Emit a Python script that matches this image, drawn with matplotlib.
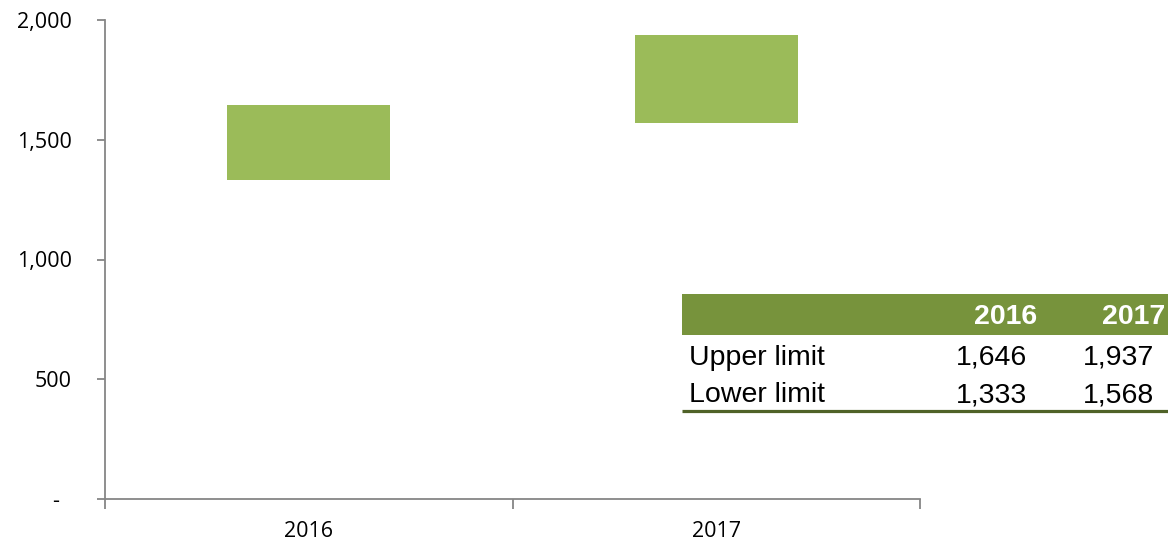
import matplotlib
matplotlib.use("Agg")
import matplotlib.pyplot as plt
from matplotlib.patches import Rectangle

# data
years = ["2016", "2017"]
upper = [1646, 1937]
lower = [1333, 1568]
row_labels = ["Upper limit", "Lower limit"]
y_ticks = [0, 500, 1000, 1500, 2000]
y_tick_labels = ["-  ", "500", "1,000", "1,500", "2,000"]

bar_color = "#9BBB59"
head_color = "#77933C"
line_color = "#4F6228"
axis_color = "#868686"

W, H = 1168, 547
fig = plt.figure(figsize=(W / 100, H / 100), dpi=100)

# main chart
ax = fig.add_axes([105 / W, 1 - 499 / H, (920 - 105) / W, (499 - 20) / H])
pos = [i + 0.5 for i in range(len(years))]
heights = [u - l for u, l in zip(upper, lower)]
ax.bar(pos, heights, bottom=lower, width=0.4, color=bar_color)
ax.set_xlim(0, len(years))
ax.set_ylim(0, 2000)
ax.set_yticks(y_ticks)
ax.set_yticklabels(y_tick_labels, fontfamily="Open Sans", fontsize=15.5)
ax.set_xticks(range(len(years) + 1))
ax.set_xticklabels([])
ax.set_xticks(pos, minor=True)
ax.set_xticklabels(years, minor=True, fontfamily="Open Sans", fontsize=15.5)
for s in ["top", "right"]:
    ax.spines[s].set_visible(False)
for s in ["left", "bottom"]:
    ax.spines[s].set_color(axis_color)
    ax.spines[s].set_linewidth(1.3)
ax.tick_params(axis="y", which="major", direction="out", length=6, width=1.3,
               color=axis_color, pad=18)
ax.tick_params(axis="x", which="major", direction="out", length=7, width=1.3,
               color=axis_color)
ax.tick_params(axis="x", which="minor", length=0, pad=16)

# table overlay (pixel coords)
tx = fig.add_axes([682 / W, 1 - 414 / H, (W - 682) / W, (414 - 292) / H])
tx.set_xlim(0, W - 682)
tx.set_ylim(414 - 292, 0)
tx.axis("off")
tx.add_patch(Rectangle((0, 2), W - 682, 41, color=head_color, lw=0))
head_right = [1037 - 682, 1165 - 682]
col_right = [1027 - 682, 1154 - 682]
font = "Liberation Sans"
for x, yr in zip(head_right, years):
    tx.text(x, 25, yr, ha="right", va="center", color="white",
            fontweight="bold", fontsize=20.5, fontfamily=font)
rows = [upper, lower]
row_y = [66, 103]
for lab, vals, y in zip(row_labels, rows, row_y):
    tx.text(7, y, lab, ha="left", va="center", fontsize=20.5, fontfamily=font)
    for x, v in zip(col_right, vals):
        tx.text(x, y, f"{v:,}", ha="right", va="center", fontsize=20.5,
                fontfamily=font)
tx.plot([0, W - 682], [118.5, 118.5], color=line_color, lw=2.3,
        solid_capstyle="butt")

fig.savefig("out.png", dpi=100)
